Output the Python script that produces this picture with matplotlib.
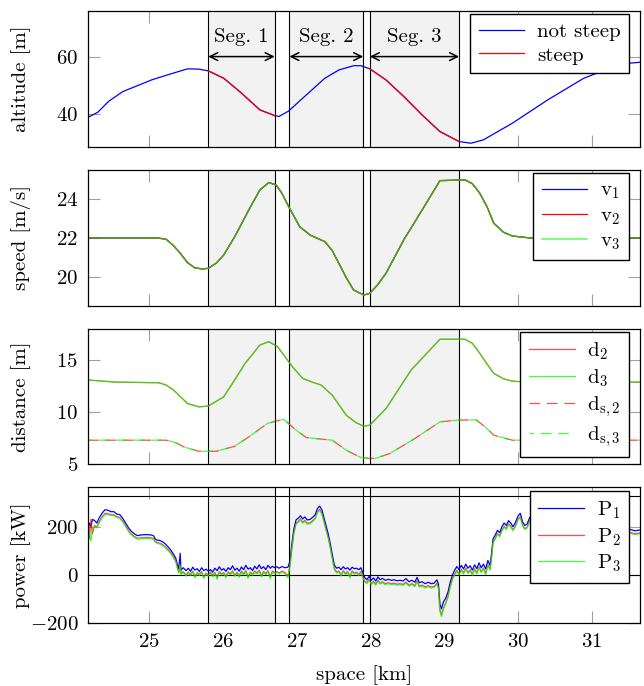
import numpy as np
import matplotlib
matplotlib.use("Agg")
import matplotlib.pyplot as plt

plt.rcParams['font.family'] = 'serif'
plt.rcParams['font.serif'] = ['cmr10']
plt.rcParams['mathtext.fontset'] = 'cm'
plt.rcParams['axes.formatter.use_mathtext'] = True
plt.rcParams['font.size'] = 15

# ---------------- data ----------------
segments = [(25.80, 26.70), (26.90, 27.90), (27.99, 29.20)]
seg_labels = ["Seg. 1", "Seg. 2", "Seg. 3"]
x_ticks = [25, 26, 27, 28, 29, 30, 31]

alt_km = [24.17, 24.30, 24.45, 24.64, 24.85, 25.03, 25.25, 25.52, 25.67, 25.80,
          26.01, 26.25, 26.50, 26.70, 26.76, 26.89, 27.08, 27.38, 27.57, 27.77,
          27.87, 27.99, 28.21, 28.45, 28.70, 28.94, 29.20, 29.36, 29.53, 29.92,
          30.40, 30.89, 31.38, 31.65]
altitude = [38.7, 40.4, 44.3, 47.7, 49.9, 51.8, 53.6, 55.7, 55.6, 55.0,
            52.4, 47.2, 41.3, 39.3, 39.0, 40.9, 45.4, 52.4, 55.3, 56.8,
            56.8, 55.7, 51.8, 46.0, 39.5, 33.7, 30.2, 29.6, 30.8, 36.6,
            44.8, 52.4, 57.4, 58.0]

speed_km = [24.17, 25.03, 25.13, 25.23, 25.33, 25.42, 25.52, 25.62, 25.72, 25.80,
            25.91, 26.01, 26.16, 26.35, 26.50, 26.62, 26.72, 26.80, 26.89, 27.04,
            27.18, 27.38, 27.48, 27.57, 27.67, 27.77, 27.91, 27.99, 28.10, 28.21,
            28.45, 28.70, 28.94, 29.28, 29.38, 29.48, 29.58, 29.67, 29.80, 29.92,
            30.16, 31.65]
v1 = [22.0, 22.0, 21.99, 21.93, 21.6, 21.21, 20.72, 20.45, 20.40, 20.43,
      20.7, 21.12, 22.07, 23.45, 24.48, 24.86, 24.74, 24.3, 23.62, 22.58,
      22.15, 21.81, 21.35, 20.69, 19.95, 19.31, 19.05, 19.14, 19.6, 20.18,
      21.90, 23.45, 24.96, 25.0, 24.8, 24.31, 23.6, 22.76, 22.3, 22.10,
      22.0, 22.0]
v2 = list(v1)
v3 = list(v1)

dist_km = [24.17, 24.55, 25.13, 25.23, 25.33, 25.42, 25.52, 25.67, 25.80, 26.01,
           26.15, 26.30, 26.50, 26.62, 26.74, 26.94, 27.08, 27.20, 27.33, 27.48,
           27.67, 27.80, 27.91, 27.99, 28.21, 28.55, 28.94, 29.28, 29.38, 29.48,
           29.58, 29.67, 29.80, 29.92, 30.10, 31.65]
d3 = [13.08, 12.88, 12.82, 12.6, 12.12, 11.5, 10.83, 10.51, 10.58, 11.47,
      13.0, 14.68, 16.44, 16.76, 16.28, 14.36, 13.24, 12.9, 12.6, 11.63,
      9.71, 9.0, 8.65, 8.75, 10.35, 14.04, 16.99, 16.99, 16.6, 15.64,
      14.6, 13.72, 13.2, 12.98, 12.88, 12.88]
d2 = list(d3)

ds_km = [24.17, 25.23, 25.35, 25.47, 25.67, 25.91, 26.16, 26.35, 26.60, 26.82,
         26.99, 27.13, 27.48, 27.67, 27.87, 28.06, 28.26, 28.60, 28.94, 29.18,
         29.43, 29.55, 29.67, 29.92, 31.65]
ds3 = [7.31, 7.31, 7.1, 6.67, 6.25, 6.25, 6.73, 7.63, 8.91, 9.33,
       8.27, 7.56, 7.31, 6.35, 5.64, 5.55, 6.03, 7.47, 9.07, 9.23,
       9.26, 8.6, 7.79, 7.31, 7.31]
ds2 = list(ds3)

power_km = [24.17, 24.19, 24.21, 24.23, 24.26, 24.29, 24.32, 24.36, 24.40, 24.44,
            24.48, 24.52, 24.56, 24.60, 24.64, 24.68, 24.72, 24.76, 24.80, 24.84,
            24.90, 24.96, 25.02, 25.06, 25.08, 25.10, 25.14, 25.18, 25.22, 25.26,
            25.30, 25.33, 25.36, 25.38, 25.40, 25.42, 25.43, 25.46, 25.50, 25.53,
            25.56, 25.59, 25.62, 25.65, 25.68, 25.71, 25.74, 25.77, 25.80, 25.83,
            25.86, 25.89, 25.92, 25.95, 25.98, 26.01, 26.04, 26.07, 26.10, 26.13,
            26.16, 26.19, 26.22, 26.25, 26.28, 26.31, 26.34, 26.37, 26.40, 26.43,
            26.46, 26.49, 26.52, 26.55, 26.58, 26.61, 26.64, 26.67, 26.70, 26.73,
            26.76, 26.80, 26.84, 26.88, 26.91, 26.93, 26.96, 26.99, 27.02, 27.05,
            27.08, 27.11, 27.14, 27.18, 27.22, 27.25, 27.28, 27.31, 27.34, 27.37,
            27.40, 27.43, 27.46, 27.49, 27.51, 27.54, 27.57, 27.60, 27.63, 27.66,
            27.69, 27.72, 27.75, 27.78, 27.81, 27.84, 27.87, 27.90, 27.92, 27.95,
            27.98, 28.01, 28.04, 28.07, 28.10, 28.13, 28.16, 28.20, 28.24, 28.28,
            28.32, 28.36, 28.40, 28.44, 28.48, 28.52, 28.56, 28.60, 28.63, 28.66,
            28.70, 28.74, 28.78, 28.82, 28.86, 28.90, 28.92, 28.94, 28.96, 28.99,
            29.02, 29.05, 29.08, 29.11, 29.14, 29.17, 29.20, 29.23, 29.26, 29.29,
            29.32, 29.35, 29.38, 29.41, 29.44, 29.47, 29.50, 29.53, 29.56, 29.59,
            29.62, 29.64, 29.66, 29.69, 29.72, 29.75, 29.78, 29.81, 29.84, 29.87,
            29.90, 29.93, 29.96, 30.00, 30.03, 30.06, 30.09, 30.12, 30.16, 30.20,
            30.26, 30.34, 30.42, 30.50, 30.60, 30.70, 30.80, 30.90, 31.00, 31.10,
            31.20, 31.30, 31.40, 31.50, 31.58, 31.65]
P1 = [190, 215, 200, 230, 225, 215, 235, 255, 270, 268,
      262, 262, 252, 250, 235, 215, 195, 180, 170, 163,
      166, 167, 166, 162, 150, 145, 143, 138, 128, 115,
      100, 85, 70, 45, 25, 90, 20, 30, 18, 28,
      15, 32, 20, 26, 14, 30, 18, 24, 16, 22,
      12, 28, 18, 34, 20, 26, 15, 30, 22, 38,
      20, 28, 16, 33, 22, 40, 24, 30, 18, 36,
      25, 42, 26, 34, 22, 40, 28, 36, 30, 34,
      28, 35, 30, 32, 60, 120, 190, 228, 235, 245,
      232, 240, 228, 230, 240, 250, 275, 285, 270, 235,
      200, 165, 120, 70, 40, 28, 32, 22, 34, 25,
      30, 20, 32, 26, 28, 22, 30, 5, -10, -20,
      -5, -22, -12, -25, -8, -20, -14, -22, -18, -22,
      -20, -24, -22, -25, -15, -28, -22, -30, -10, -32,
      -28, -36, -30, -36, -34, -20, -38, -120, -140, -110,
      -95, -70, -30, 0, 20, 35, 22, 40, 25, 45,
      28, 38, 20, 42, 26, 50, 30, 45, 25, 60,
      40, 90, 150, 165, 185, 175, 200, 215, 205, 225,
      215, 200, 215, 245, 255, 220, 205, 210, 240, 230,
      215, 220, 205, 215, 200, 210, 195, 205, 190, 200,
      185, 195, 185, 190, 183, 186]
P2 = [240, 150, 230, 170, 205, 198, 220, 240, 255, 254,
      250, 249, 242, 238, 224, 204, 184, 169, 159, 152,
      154, 155, 154, 151, 140, 136, 132, 126, 116, 104,
      90, 74, 59, 34, 12, 44, 6, 14, 0, 12,
      2, 16, -6, 10, 2, 14, -8, 8, 0, 12,
      -2, 10, -10, 14, 4, 10, -6, 12, 6, 16,
      -2, 12, -4, 16, 4, 18, -8, 12, 2, 16,
      8, 20, -2, 14, 6, 18, -8, 16, 10, 14,
      8, 16, 10, -4, 44, 104, 174, 214, 222, 232,
      218, 226, 214, 216, 226, 236, 262, 272, 256, 222,
      186, 152, 106, 56, 26, 12, 16, 0, 18, 6,
      14, -6, 16, 8, 12, 2, 14, -10, -24, -32,
      -18, -36, -26, -38, -22, -34, -28, -36, -32, -36,
      -34, -38, -36, -39, -30, -42, -36, -44, -24, -46,
      -42, -50, -44, -50, -48, -34, -52, -145, -166, -135,
      -114, -88, -46, -14, 4, 19, 4, 24, 8, 29,
      10, 22, 2, 26, 8, 34, 14, 29, 6, 44,
      24, 74, 136, 152, 172, 162, 186, 202, 192, 212,
      202, 187, 202, 232, 242, 207, 192, 197, 227, 217,
      203, 208, 193, 203, 188, 198, 183, 193, 178, 188,
      173, 183, 173, 178, 171, 174]
P3 = [150, 175, 140, 190, 200, 195, 215, 235, 250, 250,
      246, 245, 238, 234, 220, 200, 180, 165, 155, 148,
      150, 151, 150, 147, 136, 132, 128, 122, 112, 100,
      86, 70, 55, 30, 8, 40, 2, 10, -5, 8,
      -3, 12, -12, 6, -2, 10, -15, 4, -4, 8,
      -8, 6, -18, 10, 0, 6, -12, 8, 2, 12,
      -6, 8, -10, 12, 0, 14, -14, 8, -2, 12,
      4, 16, -8, 10, 2, 14, -16, 12, 6, 10,
      4, 12, 6, -12, 40, 100, 170, 210, 218, 228,
      214, 222, 210, 212, 222, 232, 258, 268, 252, 218,
      182, 148, 102, 52, 22, 8, 12, -4, 14, 2,
      10, -12, 12, 4, 8, -2, 10, -15, -28, -36,
      -22, -40, -30, -42, -26, -38, -32, -40, -36, -40,
      -38, -42, -40, -43, -34, -46, -40, -48, -28, -50,
      -46, -54, -48, -54, -52, -38, -56, -150, -172, -140,
      -118, -92, -50, -18, 0, 15, 0, 20, 4, 25,
      6, 18, -2, 22, 4, 30, 10, 25, 2, 40,
      20, 70, 132, 148, 168, 158, 182, 198, 188, 208,
      198, 183, 198, 228, 238, 203, 188, 193, 223, 213,
      199, 204, 189, 199, 184, 194, 179, 189, 174, 184,
      169, 179, 169, 174, 167, 170]
power_limit = 328

# ---------------- figure ----------------
BLUE, RED, GREEN = '#0000ff', '#ff0000', '#00ff00'
LW = 0.9
fig = plt.figure(figsize=(6.44, 6.86), dpi=100)
left, width = 0.1366, 0.857
rects = [(0.7862, 0.1978), (0.5544, 0.1978), (0.3232, 0.1976), (0.0914, 0.1983)]
axes = [fig.add_axes([left, b, width, h]) for b, h in rects]

xlim = (24.17, 31.65)
for i, ax in enumerate(axes):
    ax.set_xlim(*xlim)
    ax.set_xticks(x_ticks)
    ax.tick_params(direction='in', length=8.4, width=0.8, color='#a0a0a0',
                   top=True, right=True, labelbottom=(i == 3), pad=7)
    for sp in ax.spines.values():
        sp.set_zorder(6)
        sp.set_linewidth(0.9)
    for (a, b) in segments:
        ax.axvspan(a, b, facecolor='#f2f2f2', edgecolor='none', zorder=2.6)
        ax.axvline(a, color='k', lw=0.8, zorder=3)
        ax.axvline(b, color='k', lw=0.8, zorder=3)

leg_kw = dict(loc='upper right', fancybox=False, framealpha=1, edgecolor='k',
              borderaxespad=0, handlelength=2.2, handletextpad=0.6,
              labelspacing=0.25, borderpad=0.4, fontsize=15)

# altitude
ax = axes[0]
akm = np.array(alt_km)
aval = np.array(altitude)
ax.plot(akm, aval, color=BLUE, lw=LW, zorder=4, label='not steep')
steep = np.full(len(akm), np.nan)
for (a, b) in [segments[0], segments[2]]:
    m = (akm >= a - 1e-9) & (akm <= b + 1e-9)
    steep[m] = aval[m]
ax.plot(akm, steep, color=RED, lw=LW, zorder=4.1, label='steep')
ax.set_ylim(28.4, 76.0)
ax.set_yticks([40, 60])
ax.set_ylabel('altitude [m]')
for (a, b), lab in zip(segments, seg_labels):
    ax.annotate('', xy=(b, 60), xytext=(a, 60),
                arrowprops=dict(arrowstyle='<->', lw=1.1, color='k',
                                shrinkA=0, shrinkB=0, mutation_scale=14), zorder=5)
    ax.text((a + b) / 2, 67, lab, ha='center', va='center', fontsize=15, zorder=5)
ax.legend(bbox_to_anchor=(0.98, 0.978), **leg_kw).set_zorder(10)

# speed
ax = axes[1]
ax.plot(speed_km, v1, color=BLUE, lw=LW, zorder=4, label=r'v$_1$')
ax.plot(speed_km, v2, color=RED, lw=LW, zorder=4.1, label=r'v$_2$')
ax.plot(speed_km, v3, color=GREEN, lw=1.1, alpha=0.65, zorder=4.2, label=r'v$_3$')
ax.set_ylim(18.5, 25.51)
ax.set_yticks([20, 22, 24])
ax.set_ylabel('speed [m/s]')
ax.legend(bbox_to_anchor=(0.98, 0.978), **leg_kw).set_zorder(10)

# distance
ax = axes[2]
dash = (0, (8.5, 5.5))
ax.plot(dist_km, d2, color=RED, lw=LW, alpha=0.7, zorder=4, label=r'd$_2$')
ax.plot(dist_km, d3, color=GREEN, lw=LW, alpha=0.75, zorder=4.1, label=r'd$_3$')
ax.plot(ds_km, ds2, color=RED, lw=LW, alpha=0.7, ls=dash, zorder=4, label=r'd$_{\mathrm{s},2}$')
ax.plot(ds_km, ds3, color=GREEN, lw=LW, alpha=0.75, ls=(5, (8.5, 5.5)), zorder=4.1,
        label=r'd$_{\mathrm{s},3}$')
ax.set_ylim(5, 18.0)
ax.set_yticks([5, 10, 15])
ax.set_ylabel('distance [m]')
ax.legend(bbox_to_anchor=(0.98, 0.976), **leg_kw).set_zorder(10)

# power
ax = axes[3]
ax.axhline(0, color='k', lw=0.8, zorder=3.5)
ax.axhline(power_limit, color='k', lw=0.8, zorder=3.5)
ax.plot(power_km, P1, color=BLUE, lw=LW, zorder=4, label=r'P$_1$')
ax.plot(power_km, P2, color=RED, lw=LW, alpha=0.7, zorder=4.1, label=r'P$_2$')
ax.plot(power_km, P3, color=GREEN, lw=LW, alpha=0.75, zorder=4.2, label=r'P$_3$')
ax.set_ylim(-200, 363)
ax.set_yticks([-200, 0, 200])
ax.set_ylabel('power [kW]')
ax.set_xlabel('space [km]', labelpad=10)
ax.legend(bbox_to_anchor=(0.98, 0.973), **leg_kw).set_zorder(10)

for ax in axes:
    ax.yaxis.set_label_coords(-0.103, 0.5)

fig.savefig('out.png', dpi=100)
